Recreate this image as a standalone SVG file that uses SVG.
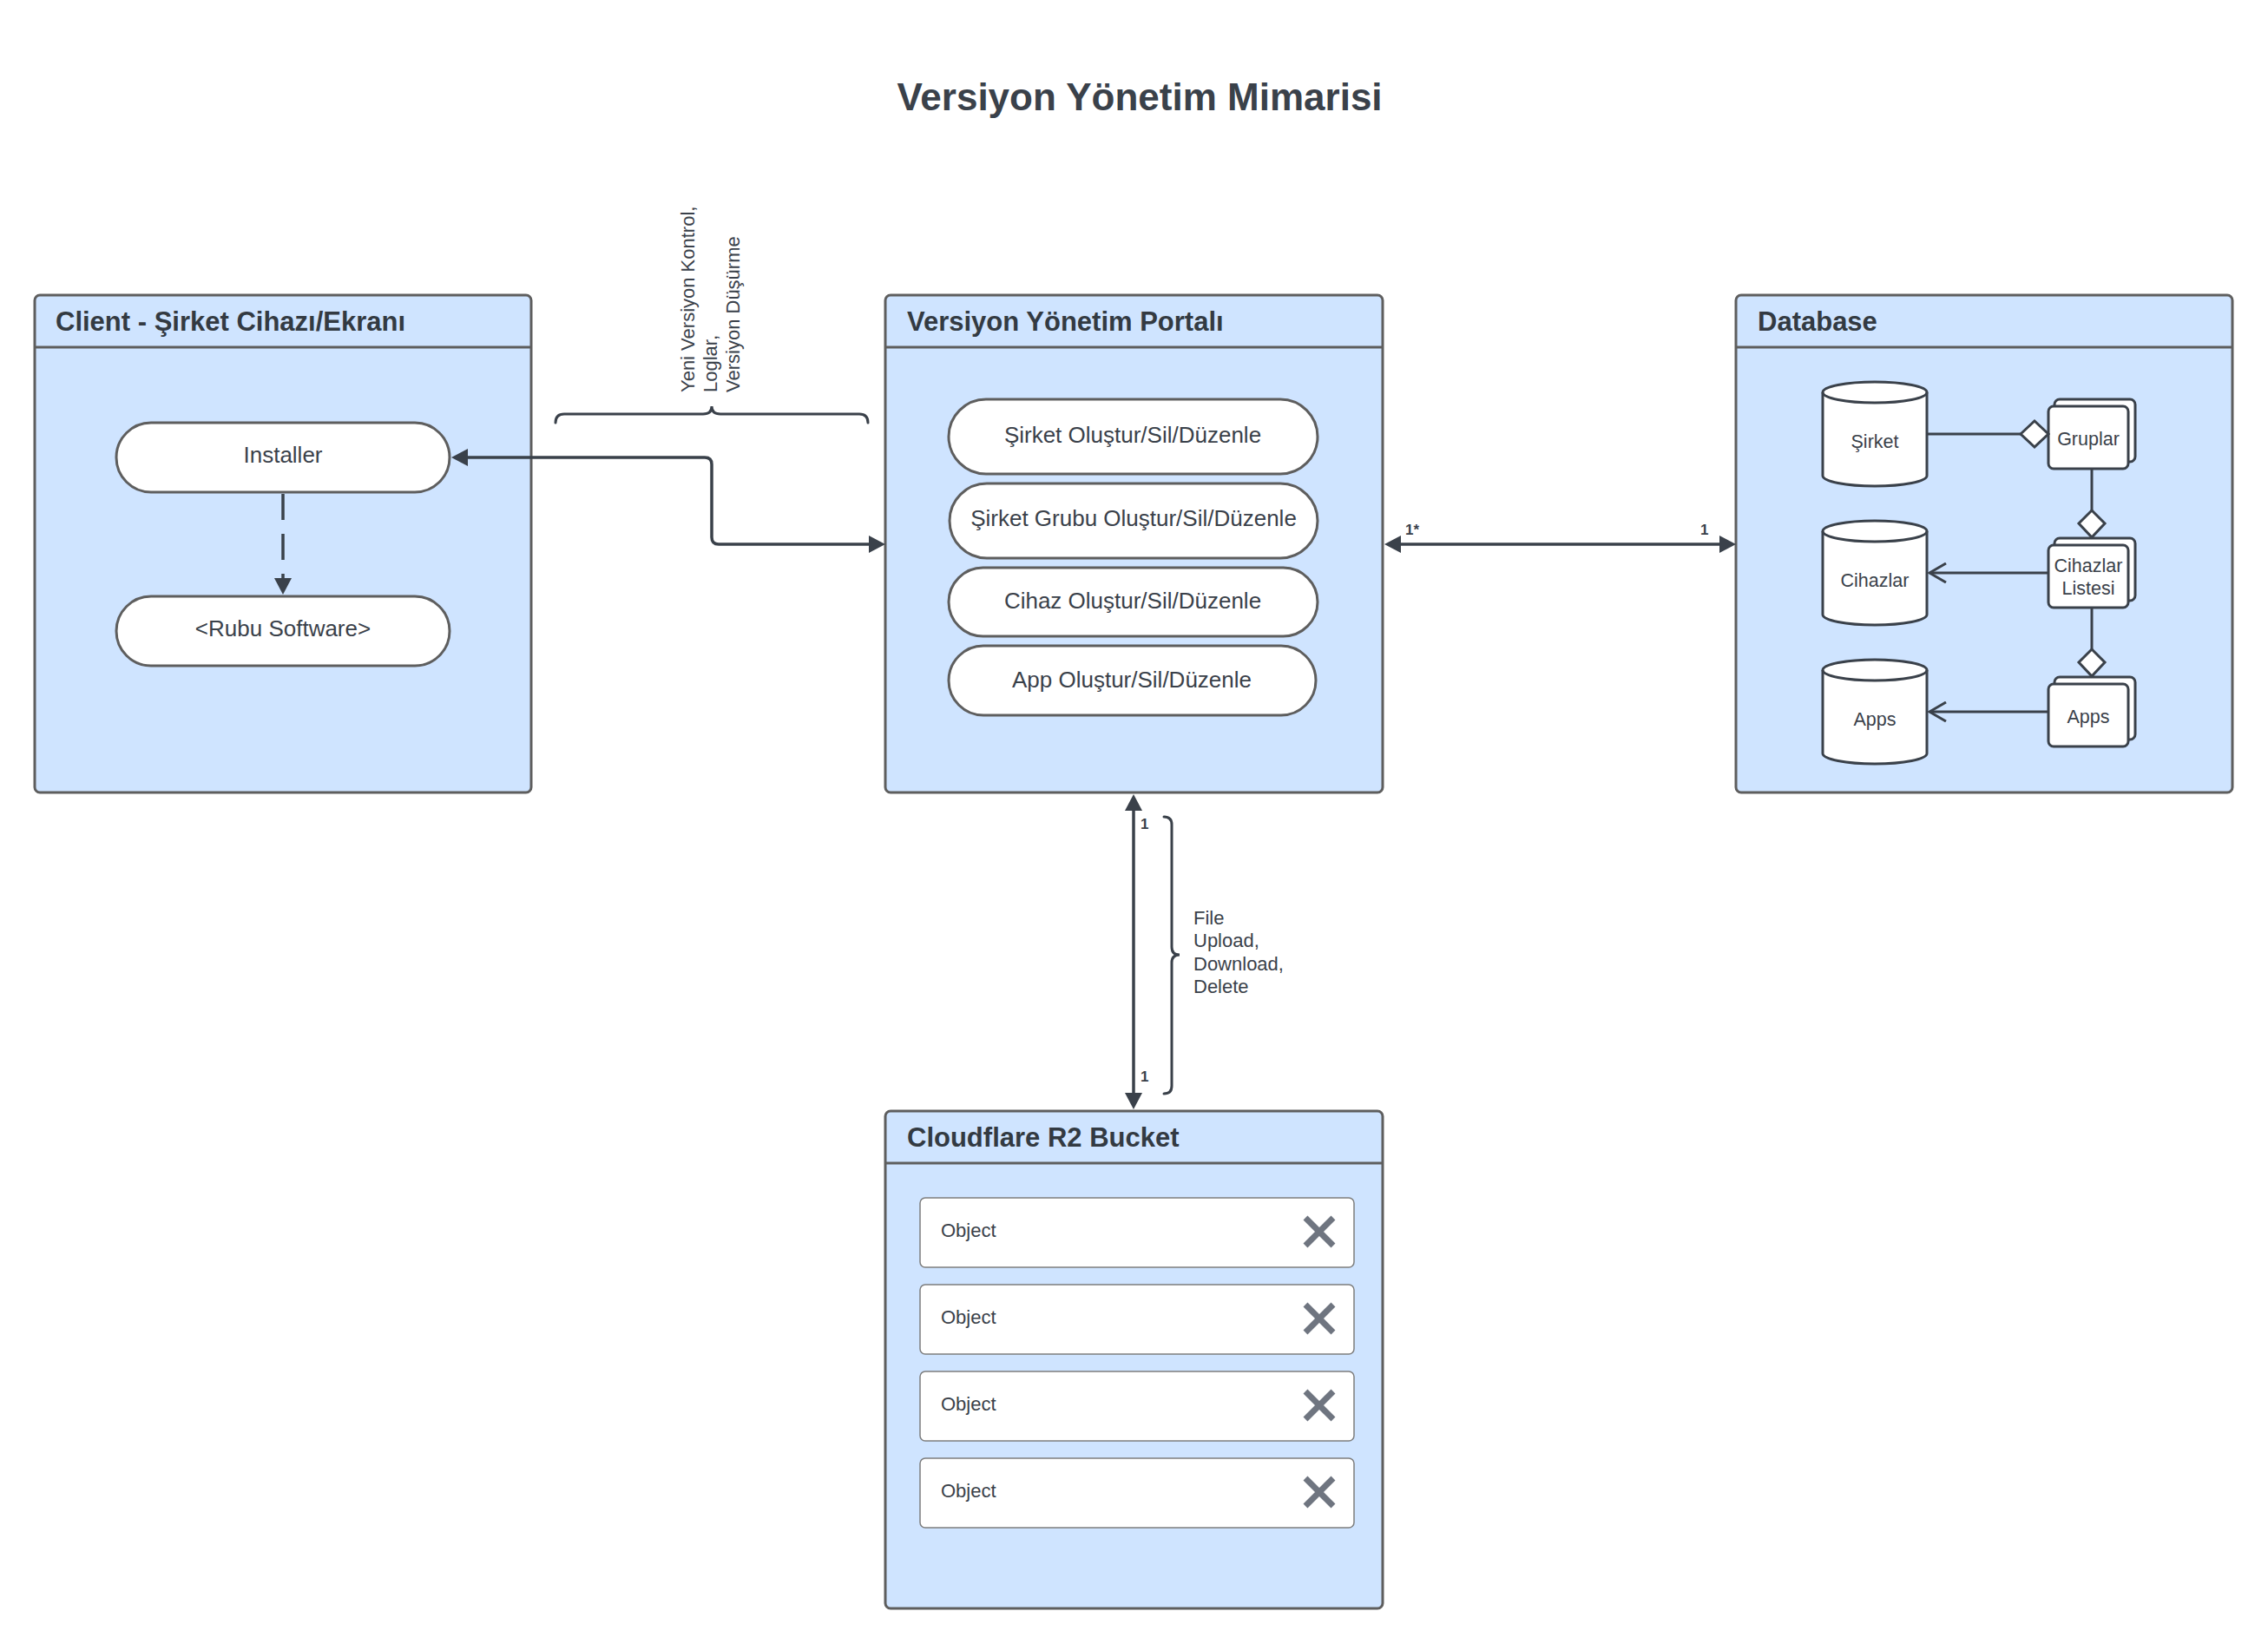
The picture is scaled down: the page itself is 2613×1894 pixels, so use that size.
<svg xmlns="http://www.w3.org/2000/svg" width="2613" height="1894" viewBox="0 0 2613 1894">
<style>
text{font-family:"Liberation Sans",Arial,sans-serif;fill:#3a414a}
.title{font-size:44px;font-weight:bold;text-anchor:middle}
.hdr{font-size:31px;font-weight:bold;fill:#333a42}
.box{fill:#cfe4ff;stroke:#5e5e5e;stroke-width:3}
.sep{stroke:#5e5e5e;stroke-width:3}
.pill{fill:#fff;stroke:#5e5e5e;stroke-width:3}
.pt{font-size:26px;text-anchor:middle}
.lbl{font-size:22px}
.ct{font-size:21.5px;text-anchor:middle}
.card{font-size:17px;font-weight:bold}
.con{fill:none;stroke:#3a414a;stroke-width:3.5}
.dcon{fill:none;stroke:#3a414a;stroke-width:3}
.shape{fill:#fff;stroke:#3a414a;stroke-width:3}
.rim{fill:none;stroke:#3a414a;stroke-width:3}
.dia{fill:#fff;stroke:#3a414a;stroke-width:3;stroke-linejoin:miter}
.brace{fill:none;stroke:#3a414a;stroke-width:3;stroke-linecap:round}
.obj{fill:#fff;stroke:#7d7d7d;stroke-width:1.5}
.x{stroke:#6f7580;stroke-width:7}
</style>
<defs>
<marker id="arr" viewBox="0 0 19 20" refX="7" refY="10" markerWidth="19" markerHeight="20" markerUnits="userSpaceOnUse" orient="auto-start-reverse">
<path d="M0,0 L19,10 L0,20 z" fill="#3a414a"/>
</marker>
<marker id="open" viewBox="0 0 22 24" refX="20" refY="12" markerWidth="22" markerHeight="24" markerUnits="userSpaceOnUse" orient="auto">
<path d="M1,1 L20,12 L1,23" fill="none" stroke="#3a414a" stroke-width="3"/>
</marker>
</defs>
<rect width="2613" height="1894" fill="#fff"/>
<text class="title" x="1313" y="127">Versiyon Yönetim Mimarisi</text>

<g id="client">
<rect class="box" x="40" y="340" width="572" height="573" rx="6"/>
<line class="sep" x1="40" y1="400" x2="612" y2="400"/>
<text class="hdr" x="64" y="381">Client - Şirket Cihazı/Ekranı</text>
</g>
<g id="installer">
<rect class="pill" x="134" y="487" width="384" height="80" rx="40"/>
<text class="pt" x="326" y="533">Installer</text>
</g>
<g id="rubu">
<rect class="pill" x="134" y="687" width="384" height="80" rx="40"/>
<text class="pt" x="326" y="733">&lt;Rubu Software&gt;</text>
</g>

<g id="portal">
<rect class="box" x="1020" y="340" width="573" height="573" rx="6"/>
<line class="sep" x1="1020" y1="400" x2="1593" y2="400"/>
<text class="hdr" x="1045" y="381">Versiyon Yönetim Portalı</text>
</g>
<g id="p1"><rect class="pill" x="1093" y="460" width="425" height="86" rx="43"/><text class="pt" x="1305" y="510">Şirket Oluştur/Sil/Düzenle</text></g>
<g id="p2"><rect class="pill" x="1094" y="557" width="424" height="86" rx="43"/><text class="pt" x="1306" y="606">Şirket Grubu Oluştur/Sil/Düzenle</text></g>
<g id="p3"><rect class="pill" x="1093" y="654" width="425" height="79" rx="39.5"/><text class="pt" x="1305" y="701">Cihaz Oluştur/Sil/Düzenle</text></g>
<g id="p4"><rect class="pill" x="1093" y="744" width="423" height="80" rx="40"/><text class="pt" x="1304" y="792">App Oluştur/Sil/Düzenle</text></g>

<g id="database">
<rect class="box" x="2000" y="340" width="572" height="573" rx="6"/>
<line class="sep" x1="2000" y1="400" x2="2572" y2="400"/>
<text class="hdr" x="2025" y="381">Database</text>
</g>
<g id="cyl-sirket">
<path class="shape" d="M2100,452 A60,12 0 0 1 2220,452 L2220,548 A60,12 0 0 1 2100,548 Z"/>
<path class="rim" d="M2100,452 A60,12 0 0 0 2220,452"/>
<text class="ct" x="2160" y="516">Şirket</text>
</g>
<g id="cyl-cihazlar">
<path class="shape" d="M2100,612 A60,12 0 0 1 2220,612 L2220,708 A60,12 0 0 1 2100,708 Z"/>
<path class="rim" d="M2100,612 A60,12 0 0 0 2220,612"/>
<text class="ct" x="2160" y="676">Cihazlar</text>
</g>
<g id="cyl-apps">
<path class="shape" d="M2100,772 A60,12 0 0 1 2220,772 L2220,868 A60,12 0 0 1 2100,868 Z"/>
<path class="rim" d="M2100,772 A60,12 0 0 0 2220,772"/>
<text class="ct" x="2160" y="836">Apps</text>
</g>
<g id="doc-gruplar">
<rect class="shape" x="2367" y="460" width="93" height="72" rx="6"/>
<rect class="shape" x="2360" y="468" width="92" height="72" rx="6"/>
<text class="ct" x="2406" y="513">Gruplar</text>
</g>
<g id="doc-cihazlar-listesi">
<rect class="shape" x="2367" y="620" width="93" height="72" rx="6"/>
<rect class="shape" x="2360" y="628" width="92" height="72" rx="6"/>
<text class="ct" x="2406" y="659">Cihazlar</text>
<text class="ct" x="2406" y="685">Listesi</text>
</g>
<g id="doc-apps">
<rect class="shape" x="2367" y="780" width="93" height="72" rx="6"/>
<rect class="shape" x="2360" y="788" width="92" height="72" rx="6"/>
<text class="ct" x="2406" y="833">Apps</text>
</g>

<g id="cloudflare">
<rect class="box" x="1020" y="1280" width="573" height="573" rx="6"/>
<line class="sep" x1="1020" y1="1340" x2="1593" y2="1340"/>
<text class="hdr" x="1045" y="1321">Cloudflare R2 Bucket</text>
</g>
<g id="obj1"><rect class="obj" x="1060" y="1380" width="500" height="80" rx="6"/><text class="lbl" x="1084" y="1425">Object</text><path class="x" d="M1504,1403 L1536,1435 M1536,1403 L1504,1435"/></g>
<g id="obj2"><rect class="obj" x="1060" y="1480" width="500" height="80" rx="6"/><text class="lbl" x="1084" y="1525">Object</text><path class="x" d="M1504,1503 L1536,1535 M1536,1503 L1504,1535"/></g>
<g id="obj3"><rect class="obj" x="1060" y="1580" width="500" height="80" rx="6"/><text class="lbl" x="1084" y="1625">Object</text><path class="x" d="M1504,1603 L1536,1635 M1536,1603 L1504,1635"/></g>
<g id="obj4"><rect class="obj" x="1060" y="1680" width="500" height="80" rx="6"/><text class="lbl" x="1084" y="1725">Object</text><path class="x" d="M1504,1703 L1536,1735 M1536,1703 L1504,1735"/></g>

<g id="connectors">
<path class="con" d="M532,527 H812 Q820,527 820,535 V619 Q820,627 828,627 H1008" marker-start="url(#arr)" marker-end="url(#arr)"/>
<path class="con" d="M326,569 V673" stroke-dasharray="30 16" marker-end="url(#arr)"/>
<path class="con" d="M1607,627 H1988" marker-start="url(#arr)" marker-end="url(#arr)"/>
<path class="con" d="M1306,927 V1266" marker-start="url(#arr)" marker-end="url(#arr)"/>
<path class="dcon" d="M2221,500 H2328"/>
<polygon class="dia" points="2328,500 2344,485 2360,500 2344,515"/>
<path class="dcon" d="M2410,540 V588"/>
<polygon class="dia" points="2410,588 2425,603 2410,619 2395,603"/>
<path class="dcon" d="M2410,700 V748"/>
<polygon class="dia" points="2410,748 2425,763 2410,779 2395,763"/>
<path class="dcon" d="M2360,660 H2223" marker-end="url(#open)"/>
<path class="dcon" d="M2360,820 H2223" marker-end="url(#open)"/>
<path class="brace" d="M640,487 Q640,477 650,477 L810,477 Q820,477 820,468 Q820,477 830,477 L990,477 Q1000,477 1000,487"/>
<path class="brace" d="M1341,941 Q1350,941 1350,950 L1350,1091 Q1350,1100 1359,1100 Q1350,1100 1350,1109 L1350,1251 Q1350,1260 1341,1260"/>
<text class="lbl" transform="rotate(-90)"><tspan x="-452" y="800">Yeni Versiyon Kontrol,</tspan><tspan x="-452" y="826">Loglar,</tspan><tspan x="-452" y="852">Versiyon Düşürme</tspan></text>
<text class="lbl"><tspan x="1375" y="1065">File</tspan><tspan x="1375" y="1091">Upload,</tspan><tspan x="1375" y="1118">Download,</tspan><tspan x="1375" y="1144">Delete</tspan></text>
<text class="card" x="1619" y="616">1*</text>
<text class="card" x="1959" y="616">1</text>
<text class="card" x="1314" y="955">1</text>
<text class="card" x="1314" y="1246">1</text>
</g>
</svg>
